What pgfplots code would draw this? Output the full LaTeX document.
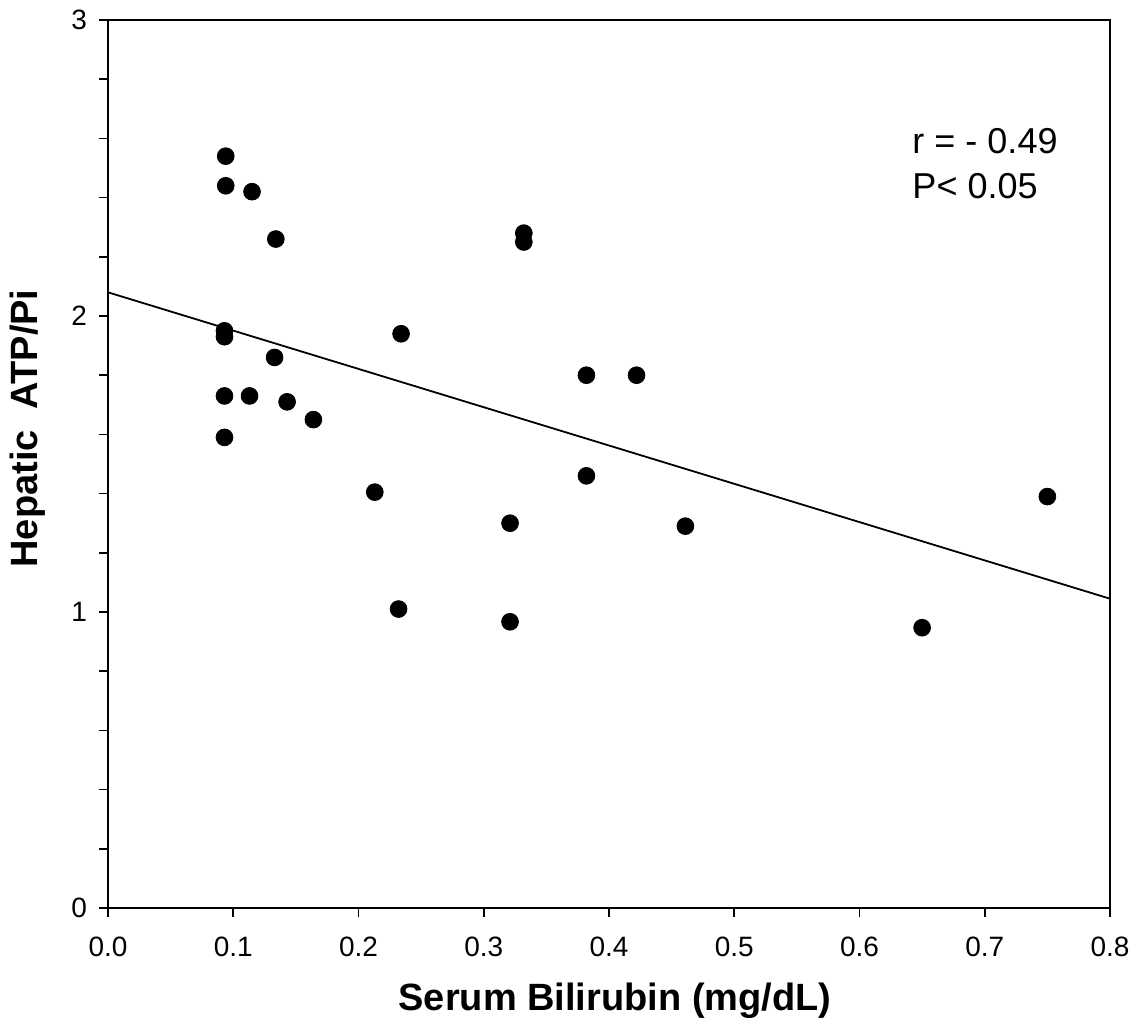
\documentclass[border=0pt]{standalone}
\usepackage{pgfplots}
\pgfplotsset{compat=1.18}
\usepackage{fontspec}
\setmainfont{Liberation Sans}
\begin{document}
\begin{tikzpicture}
\path[use as bounding box] (-54pt,-63.5pt) rectangle (516.5pt,454pt);
\begin{axis}[
  at={(0pt,0pt)}, anchor=south west,
  scale only axis, width=501pt, height=444pt,
  xmin=0, xmax=0.8, ymin=0, ymax=3,
  xtick={0,0.1,...,0.8},
  ytick={0,1,2,3},
  minor ytick={0.2,0.4,0.6,0.8,1.2,1.4,1.6,1.8,2.2,2.4,2.6,2.8},
  xtick pos=left, ytick pos=left,
  tick align=outside,
  major tick length=4.5pt, minor tick length=4.5pt,
  every tick/.style={black, line width=0.8pt},
  axis line style={line width=0.9pt},
  /pgf/number format/assume math mode=true,
  xticklabel={\pgfmathprintnumber[fixed,fixed zerofill,precision=1]{\tick}},
  yticklabel={\pgfmathprintnumber[fixed,precision=0]{\tick}},
  tick label style={font=\fontsize{14}{16}\selectfont},
  xticklabel style={yshift=-6.5pt},
  yticklabel style={xshift=-2.5pt},
  xlabel={\textbf{Serum Bilirubin (mg/dL)}},
  ylabel={\textbf{Hepatic\ \ ATP/Pi}},
  xlabel style={font=\fontsize{19}{22}\selectfont, at={(axis description cs:0.506,-0.104)}, anchor=center},
  ylabel style={font=\fontsize{19}{22}\selectfont, at={(axis description cs:-0.08,0.54)}, anchor=center, rotate=0},
  clip=false,
]
\addplot[only marks, mark=*, mark size=4.2pt, black] table {
x y
0.094 2.54
0.094 2.44
0.115 2.42
0.134 2.26
0.093 1.95
0.093 1.93
0.133 1.86
0.093 1.73
0.113 1.73
0.143 1.71
0.164 1.65
0.093 1.59
0.234 1.94
0.332 2.28
0.332 2.25
0.382 1.80
0.422 1.80
0.213 1.405
0.321 1.30
0.382 1.46
0.461 1.29
0.232 1.01
0.321 0.967
0.650 0.947
0.750 1.39
};
\addplot[black, line width=0.9pt] coordinates {(0,2.08) (0.8,1.045)};
\node[anchor=base west, inner sep=0pt, font=\fontsize{18}{21}\selectfont] at (axis cs:0.642,2.548) {r = - 0.49};
\node[anchor=base west, inner sep=0pt, font=\fontsize{18}{21}\selectfont] at (axis cs:0.642,2.396) {P< 0.05};
\end{axis}
\end{tikzpicture}
\end{document}
